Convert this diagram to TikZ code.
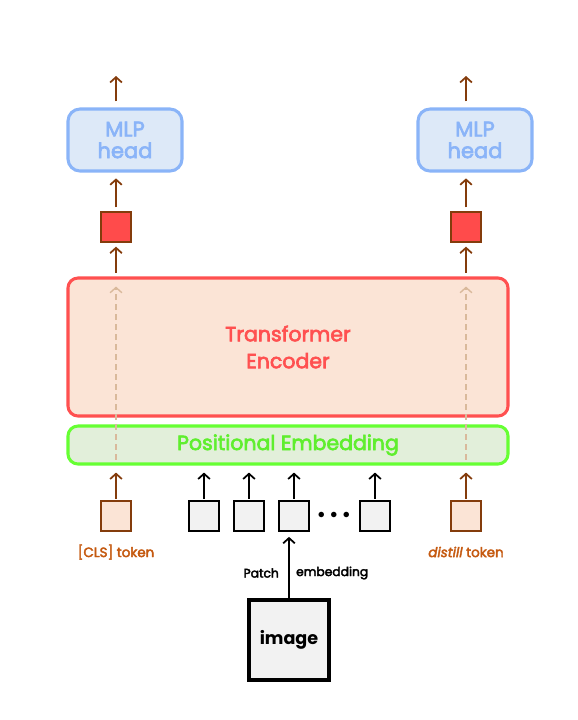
\documentclass[tikz,border=0pt]{standalone}
\usepackage{fontspec}
\setmainfont{Poppins}
\newfontfamily\medfont{Poppins}[BoldFont=Poppins, BoldFeatures={FakeBold=3},
    BoldItalicFont=Poppins Italic, BoldItalicFeatures={FakeBold=3}]
\usetikzlibrary{positioning,arrows.meta}
\definecolor{mlpfill}{HTML}{DDE9F8}
\definecolor{mlpline}{HTML}{8AB4F8}
\definecolor{encfill}{HTML}{FBE4D6}
\definecolor{encline}{HTML}{FF5050}
\definecolor{posfill}{HTML}{E2EFDA}
\definecolor{posline}{HTML}{66FF33}
\definecolor{postext}{HTML}{5FEE2E}
\definecolor{tokline}{HTML}{843C0C}
\definecolor{toktext}{HTML}{C55A11}
\definecolor{outfill}{HTML}{FF4B4B}
\definecolor{dashline}{HTML}{D9B99B}
\definecolor{patchfill}{HTML}{F2F2F2}
\tikzset{
    x=0.03cm, y=-0.03cm,
    >={Straight Barb[length=4.5pt,width=10pt]},
    }
\begin{document}
\begin{tikzpicture}[
mlpbox/.style={rectangle, rounded corners=0.36cm, draw=mlpline, fill=mlpfill, line width=2.6pt, minimum width=3.42cm, minimum height=1.86cm, text=mlpline, align=center, font=\medfont\bfseries\fontsize{18}{18.5}\selectfont},
bigbox/.style={rectangle, rounded corners=0.3cm, line width=2.6pt, minimum width=13.2cm},
outbox/.style={rectangle, draw=tokline, fill=outfill, line width=2pt, minimum size=0.9cm},
tokbox/.style={rectangle, draw=tokline, fill=encfill, line width=2pt, minimum size=0.9cm},
patchbox/.style={rectangle, draw=black, fill=patchfill, line width=2pt, minimum size=0.9cm},
brownarrow/.style={->, tokline, line width=1.5pt},
blackarrow/.style={->, black, line width=1.5pt},
tokenlabel/.style={text=toktext, font=\medfont\bfseries\fontsize{11.5}{13}\selectfont},
]
\useasboundingbox (0,0) rectangle (577,720);

% heads
\node[mlpbox] (mlpL) at (125,140) {MLP\\head};
\node[mlpbox] (mlpR) at (475,140) {MLP\\head};
\node[outbox] (outL) at (116,227) {};
\node[outbox] (outR) at (466,227) {};
\coordinate (topL) at (116,76);
\coordinate (topR) at (466,76);

% encoder
\node[bigbox, draw=encline, fill=encfill, minimum height=4.14cm, text=encline, align=center,
      font=\medfont\bfseries\fontsize{17.5}{23}\selectfont] (enc) at (288,347) {Transformer\\Encoder};
\node[bigbox, draw=posline, fill=posfill, minimum height=1.14cm, text=postext,
      font=\medfont\bfseries\fontsize{17.5}{19}\selectfont] (pos) at (288,445) {Positional Embedding};

% tokens
\node[tokbox] (cls) at (116,516) {};
\node[tokbox] (dist) at (466,516) {};
\node[patchbox] (p1) at (204,516) {};
\node[patchbox] (p2) at (249,516) {};
\node[patchbox] (p3) at (294,516) {};
\node[patchbox] (p4) at (375,516) {};
\node (dots) at (334,515) {\fontsize{12.5}{12}\selectfont $\bullet\,\bullet\,\bullet$};
\node[tokenlabel] (clslab) at (116,552) {[CLS] token};
\node[tokenlabel] (distlab) at (466,552) {\textit{distill} token};

% image
\node[patchbox, line width=2.6pt, minimum size=2.4cm, font=\fontsize{15}{16}\selectfont\bfseries] (img) at (289,640) {image};
\node[anchor=east, font=\medfont\bfseries\fontsize{10.5}{12}\selectfont] (plab) at (283,573) {Patch};
\node[anchor=west, font=\medfont\bfseries\fontsize{10.5}{12}\selectfont] (elab) at (292,573) {embedding};

% arrows
\draw[brownarrow] (mlpL.north -| topL) ++(0,-6) -- (topL);
\draw[brownarrow] (mlpR.north -| topR) ++(0,-6) -- (topR);
\draw[brownarrow, shorten <=3pt, shorten >=5pt] (outL.north) -- (mlpL.south -| outL);
\draw[brownarrow, shorten <=3pt, shorten >=5pt] (outR.north) -- (mlpR.south -| outR);
\draw[brownarrow, shorten <=3pt, shorten >=3pt] (outL |- enc.north) -- (outL.south);
\draw[brownarrow, shorten <=3pt, shorten >=3pt] (outR |- enc.north) -- (outR.south);
\draw[->, dashline, line width=1.2pt, dash pattern=on 5pt off 3.5pt] (cls |- pos.south) ++(0,-6) -- ++(0,-173);
\draw[->, dashline, line width=1.2pt, dash pattern=on 5pt off 3.5pt] (dist |- pos.south) ++(0,-6) -- ++(0,-173);
\draw[brownarrow, shorten <=1pt, shorten >=6pt] (cls.north) -- (cls |- pos.south);
\draw[brownarrow, shorten <=1pt, shorten >=6pt] (dist.north) -- (dist |- pos.south);
\foreach \p in {p1,p2,p3,p4}
    \draw[blackarrow, shorten <=1pt, shorten >=6pt] (\p.north) -- (\p |- pos.south);
\draw[blackarrow, shorten >=4pt] (img.north) -- (p3.south -| img);
\end{tikzpicture}
\end{document}
